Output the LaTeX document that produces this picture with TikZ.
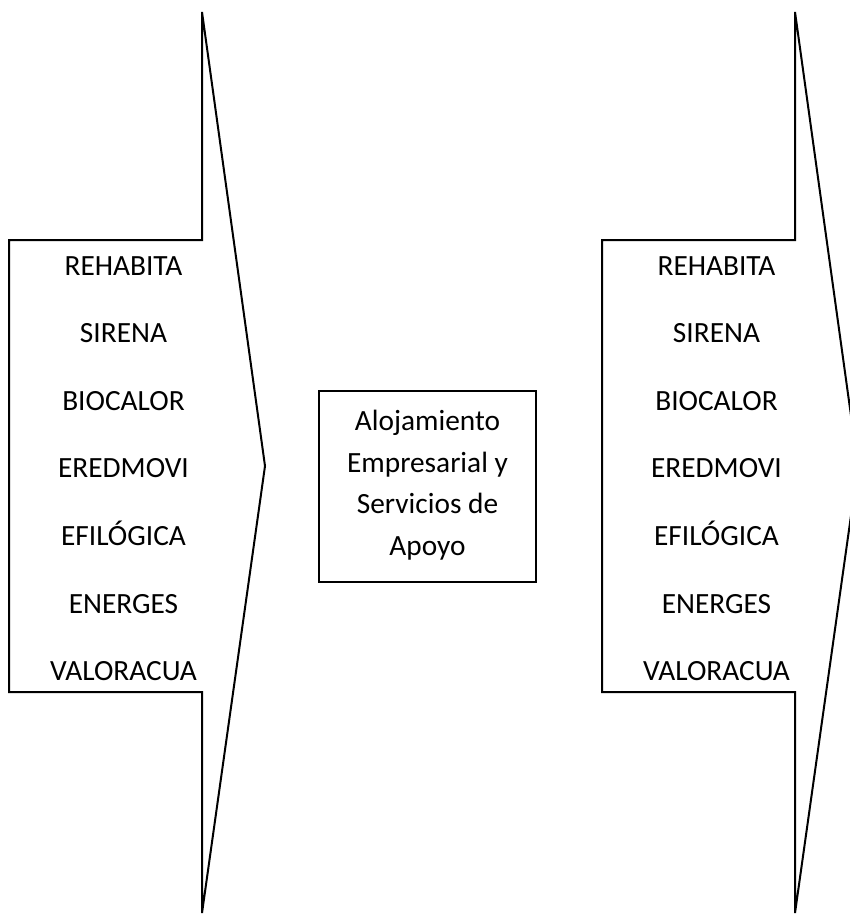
\documentclass[tikz,border=0pt]{standalone}
\usepackage{fontspec}
\setmainfont{Carlito}
\begin{document}
\begin{tikzpicture}
	[x=0.75pt,y=-0.75pt,
	outline/.style={draw,line width=1.5pt,line join=miter},
	item/.style={font=\fontsize{22}{26}\selectfont,inner sep=0pt,
		text height=14.2pt,text depth=0pt,anchor=center}]
	\useasboundingbox (0,0) rectangle (850,918);
	\clip (0,0) rectangle (850,918);
	% left arrow
	\draw[outline] (9,240) -- (202,240) -- (202,12) -- (265,466)
		-- (202,913) -- (202,692) -- (9,692) -- cycle;
	% right arrow
	\draw[outline] (602,240) -- (795,240) -- (795,12) -- (858,466)
		-- (795,913) -- (795,692) -- (602,692) -- cycle;
	\foreach \name [count=\i] in {REHABITA,SIRENA,BIOCALOR,
		EREDMOVI,EFILÓGICA,ENERGES,VALORACUA}
	{
		\node[item] (left\i) at (123.5,198+67.6*\i) {\name};
		\node[item] (right\i) at (716.5,198+67.6*\i) {\name};
	}
	% middle box
	\draw[outline] (319,391) rectangle (536,582);
	\node[item] (alo) at (427.5,421) {Alojamiento};
	\node[item] (emp) at (427.5,463) {Empresarial y};
	\node[item] (ser) at (427.5,504) {Servicios de};
	\node[item] (apo) at (427.5,546) {Apoyo};
\end{tikzpicture}
\end{document}
